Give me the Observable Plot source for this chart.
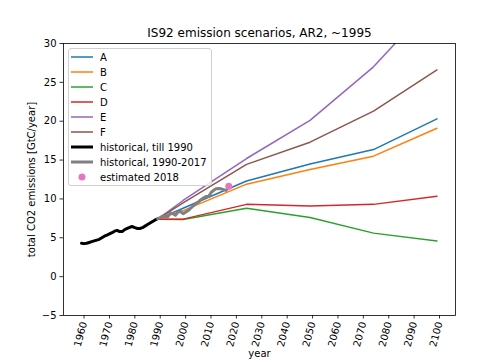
<!DOCTYPE html>
<html>
<head>
<meta charset="utf-8">
<script src="https://cdn.jsdelivr.net/npm/d3@7"></script>
<script src="https://cdn.jsdelivr.net/npm/@observablehq/plot@0.6"></script>
<style>
  html, body { margin: 0; padding: 0; background: white; }
  #wrap { position: relative; width: 504px; height: 360px; overflow: hidden; font-family: "DejaVu Sans", sans-serif; }
  #legend { position: absolute; left: 68px; top: 48px; width: 142px; height: 136px; border: 1px solid #d0d0d0; border-radius: 3px; background: rgba(255,255,255,0.8); font-size: 10px; color: black; }
  .row { position: absolute; left: 0; height: 15px; display: flex; align-items: center; white-space: nowrap; }
  .row svg { margin-left: 2px; margin-right: 7px; }
</style>
</head>
<body>
<div id="wrap"><div id="chart"></div><div id="legend"></div></div>
<script>
const title = "IS92 emission scenarios, AR2, ~1995";
const xLabel = "year";
const yLabel = "total CO2 emissions [GtC/year]";

const scenarioNames = ["A", "B", "C", "D", "E", "F"];
const scenarioColors = ["#1f77b4", "#ff7f0e", "#2ca02c", "#d62728", "#9467bd", "#8c564b"];
const scenarioYears = [1989, 1999, 2024, 2049, 2074, 2099];
const scenarioA = [7.4, 8.8, 12.3, 14.5, 16.35, 20.3];
const scenarioB = [7.4, 8.5, 11.9, 13.8, 15.5, 19.1];
const scenarioC = [7.4, 7.35, 8.8, 7.6, 5.6, 4.6];
const scenarioD = [7.4, 7.4, 9.3, 9.1, 9.3, 10.35];
const scenarioE = [7.4, 9.8, 15.2, 20.1, 27.0, 35.8];
const scenarioF = [7.4, 9.5, 14.45, 17.3, 21.3, 26.6];

const histYears = [1959, 1960, 1961, 1962, 1963, 1964, 1965, 1966, 1967, 1968, 1969, 1970, 1971, 1972, 1973, 1974, 1975, 1976, 1977, 1978, 1979, 1980, 1981, 1982, 1983, 1984, 1985, 1986, 1987, 1988, 1989];
const histValues = [4.3, 4.25, 4.3, 4.4, 4.5, 4.6, 4.7, 4.8, 5.0, 5.2, 5.35, 5.5, 5.65, 5.85, 5.95, 5.8, 5.8, 6.05, 6.2, 6.35, 6.45, 6.3, 6.2, 6.2, 6.3, 6.5, 6.7, 6.9, 7.1, 7.3, 7.45];

const recentYears = [1989, 1990, 1991, 1992, 1993, 1994, 1995, 1996, 1997, 1998, 1999, 2000, 2001, 2002, 2003, 2004, 2005, 2006, 2007, 2008, 2009, 2010, 2011, 2012, 2013, 2014, 2015, 2016];
const recentValues = [7.45, 7.6, 7.8, 7.7, 7.7, 8.2, 8.1, 7.9, 8.3, 8.4, 8.1, 8.3, 8.5, 8.8, 9.1, 9.4, 9.6, 9.9, 10.1, 10.3, 10.3, 10.8, 11.1, 11.3, 11.35, 11.3, 11.2, 11.1];

const estimateYear = [2017];
const estimateValue = [11.62];

const legendLabels = ["A", "B", "C", "D", "E", "F", "historical, till 1990", "historical, 1990-2017", "estimated 2018"];
const xTicks = [1960, 1970, 1980, 1990, 2000, 2010, 2020, 2030, 2040, 2050, 2060, 2070, 2080, 2090, 2100];
const yTicks = [-5, 0, 5, 10, 15, 20, 25, 30];

const scenarioSeries = [scenarioA, scenarioB, scenarioC, scenarioD, scenarioE, scenarioF];
const scenarioRows = scenarioNames.flatMap((name, i) =>
  scenarioYears.map((year, j) => ({name, year, value: scenarioSeries[i][j]})));
const histRows = histYears.map((year, i) => ({year, value: histValues[i]}));
const recentRows = recentYears.map((year, i) => ({year, value: recentValues[i]}));
const estimateRows = estimateYear.map((year, i) => ({year, value: estimateValue[i]}));

const chart = Plot.plot({
  width: 504,
  height: 360,
  marginLeft: 63,
  marginRight: 49,
  marginTop: 43,
  marginBottom: 45,
  style: {fontFamily: "DejaVu Sans", fontSize: "10px", color: "black", background: "white", overflow: "visible"},
  x: {domain: [1951.9, 2106.3]},
  y: {domain: [-5, 30]},
  color: {domain: scenarioNames, range: scenarioColors},
  marks: [
    Plot.line(scenarioRows, {x: "year", y: "value", z: "name", stroke: "name", strokeWidth: 1.5, clip: true}),
    Plot.line(histRows, {x: "year", y: "value", stroke: "black", strokeWidth: 3, clip: true}),
    Plot.line(recentRows, {x: "year", y: "value", stroke: "#808080", strokeWidth: 3, clip: true}),
    Plot.dot(estimateRows, {x: "year", y: "value", r: 3.5, fill: "#e377c2", stroke: "none"}),
    Plot.frame({stroke: "black", strokeWidth: 0.8}),
    Plot.axisX({ticks: xTicks, tickFormat: d => `${d}`, tickRotate: -75, tickSize: 3.5, tickPadding: 3, strokeWidth: 0.8, label: null, fontSize: 10}),
    Plot.axisY({ticks: yTicks, tickSize: 3.5, tickPadding: 3.5, strokeWidth: 0.8, label: null, fontSize: 10}),
    Plot.text([title], {frameAnchor: "top", dy: -7, lineAnchor: "bottom", fontSize: 12, text: d => d}),
    Plot.text([xLabel], {frameAnchor: "bottom", dy: 34, lineAnchor: "top", fontSize: 10, text: d => d}),
    Plot.text([yLabel], {frameAnchor: "left", dx: -32, rotate: -90, lineAnchor: "middle", textAnchor: "middle", fontSize: 10, text: d => d})
  ]
});
document.getElementById("chart").appendChild(chart);

const legend = document.getElementById("legend");
const swatchColors = [...scenarioColors, "black", "#808080", "#e377c2"];
legendLabels.forEach((label, i) => {
  const row = document.createElement("div");
  row.className = "row";
  row.style.top = (0.5 + 15 * i) + "px";
  let sw;
  if (i < 8) {
    const w = i < 6 ? 1.5 : 3;
    sw = `<svg width="22" height="10"><line x1="0" x2="22" y1="5" y2="5" stroke="${swatchColors[i]}" stroke-width="${w}"/></svg>`;
  } else {
    sw = `<svg width="22" height="10"><circle cx="11" cy="5" r="3.5" fill="${swatchColors[i]}"/></svg>`;
  }
  row.innerHTML = sw + `<span>${label}</span>`;
  legend.appendChild(row);
});
</script>
</body>
</html>
